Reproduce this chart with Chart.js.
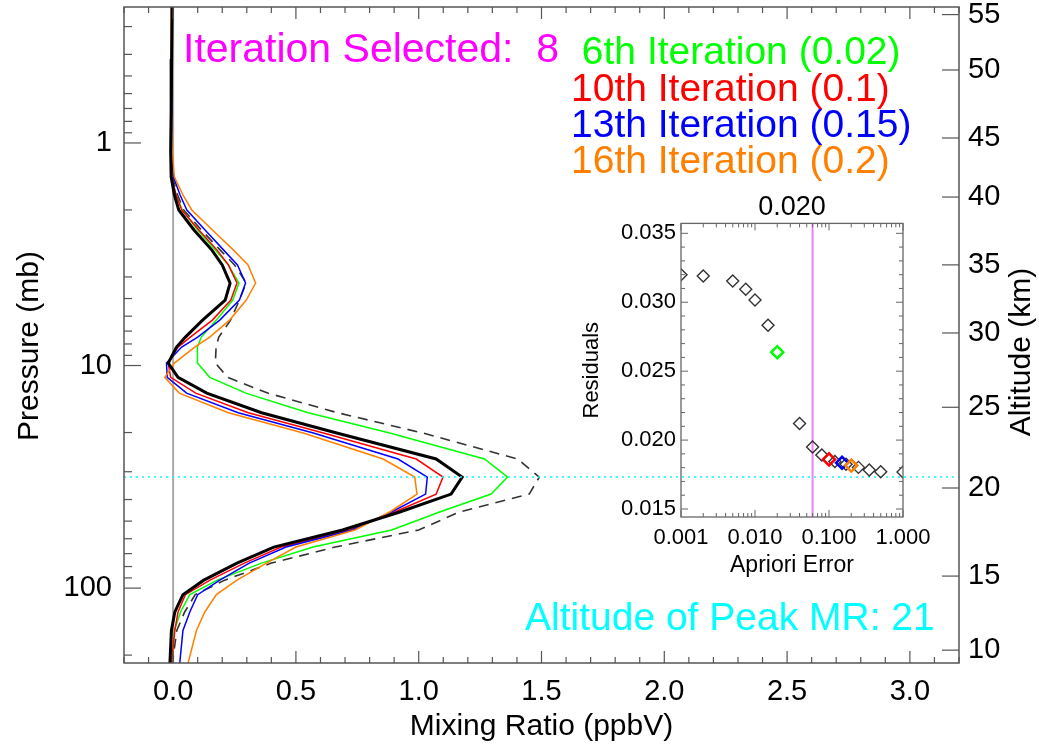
<!DOCTYPE html>
<html>
<head>
<meta charset="utf-8">
<script src="https://cdn.jsdelivr.net/npm/chart.js@4.4.1/dist/chart.umd.min.js"></script>
<style>
  html, body { margin: 0; padding: 0; background: #fff; }
  #wrap { position: relative; width: 1039px; height: 745px; }
  #main { position: absolute; left: 0; top: 0; }
  #inset { position: absolute; left: 560px; top: 190px; }
</style>
</head>
<body>
<div id="wrap">
  <canvas id="main" width="1039" height="745"></canvas>
  <canvas id="inset" width="464" height="400"></canvas>
</div>
<script>
const FONT = "'Liberation Sans', Arial, Helvetica, sans-serif";

// profiles: mixing ratio (ppbV) at each pressure level (mb)
const pressure = [0.245, 0.42, 0.71, 1.08, 1.42, 1.71, 2.0, 2.46, 3.03, 3.53, 4.26, 5.08, 6.25, 7.45, 8.26, 9.75,
  11.3, 13.3, 16.3, 20.1, 26.3, 31.7, 37.8, 45.5, 54.8, 65.4, 77.2, 92.1, 107, 128, 155, 217];
const selected8 = [-0.004, -0.006, -0.008, -0.010, -0.008, 0.005, 0.023, 0.085, 0.158, 0.200, 0.232, 0.212, 0.120, 0.050, 0.014, -0.020,
  0.020, 0.137, 0.360, 0.666, 1.071, 1.177, 1.132, 0.923, 0.690, 0.410, 0.260, 0.125, 0.040, 0.007, -0.007, -0.013];
const apriori = [-0.003, -0.005, -0.006, -0.007, -0.003, 0.018, 0.043, 0.115, 0.192, 0.250, 0.298, 0.270, 0.234, 0.186, 0.175, 0.172,
  0.222, 0.385, 0.670, 1.017, 1.403, 1.491, 1.450, 1.166, 1.000, 0.660, 0.400, 0.210, 0.090, 0.047, 0.015, -0.003];
const iter6 = [-0.005, -0.006, -0.007, -0.008, -0.005, 0.012, 0.037, 0.100, 0.172, 0.225, 0.268, 0.243, 0.176, 0.115, 0.099, 0.099,
  0.149, 0.296, 0.550, 0.882, 1.268, 1.362, 1.295, 1.085, 0.890, 0.570, 0.360, 0.180, 0.068, 0.030, 0.005, -0.005];
const iter10 = [-0.005, -0.006, -0.007, -0.008, -0.005, 0.012, 0.035, 0.105, 0.179, 0.225, 0.260, 0.235, 0.160, 0.070, 0.020, -0.020,
  -0.010, 0.092, 0.306, 0.612, 0.990, 1.099, 1.071, 0.902, 0.720, 0.440, 0.290, 0.150, 0.050, 0.020, 0.007, -0.007];
const iter13 = [-0.004, -0.005, -0.006, -0.006, 0.001, 0.028, 0.056, 0.130, 0.206, 0.262, 0.295, 0.270, 0.190, 0.100, 0.035, -0.027,
  -0.024, 0.055, 0.265, 0.571, 0.916, 1.035, 1.028, 0.889, 0.730, 0.460, 0.310, 0.190, 0.100, 0.068, 0.040, 0.027];
const iter16 = [-0.008, -0.008, -0.006, -0.004, 0.005, 0.040, 0.076, 0.160, 0.246, 0.305, 0.336, 0.298, 0.230, 0.149, 0.088, 0.005,
  -0.034, 0.025, 0.225, 0.530, 0.855, 0.984, 0.993, 0.882, 0.740, 0.500, 0.380, 0.260, 0.176, 0.129, 0.095, 0.061];
const peakPressure = 31.7;

const xTicks = [0, 0.5, 1, 1.5, 2, 2.5, 3];
const pressureTicks = [1, 10, 100];
const altitudeTicks = [10, 15, 20, 25, 30, 35, 40, 45, 50, 55];
const altitudePressure = [190, 88.3, 35.5, 15.4, 7.14, 3.53, 1.75, 0.95, 0.47, 0.265];

// inset: residuals vs apriori error
const aprioriError = [0.001, 0.002, 0.005, 0.0075, 0.01, 0.015, 0.02, 0.04, 0.06, 0.08, 0.1, 0.12, 0.15, 0.17, 0.2, 0.25, 0.35, 0.5, 1.0];
const residuals = [0.0320, 0.0319, 0.03154, 0.03094, 0.03017, 0.02833, 0.02638, 0.02121, 0.01949, 0.01891, 0.0186, 0.01845, 0.01835, 0.01825, 0.01815, 0.01802, 0.01783, 0.0177, 0.01768];
const highlightError = [0.02, 0.1, 0.15, 0.2];
const highlightResidual = [0.02638, 0.0186, 0.01835, 0.01815];
const highlightColor = ['#00ff00', '#ff0000', '#0000ff', '#ff8000'];
const selectedError = 0.06;
const residualTicks = [0.015, 0.020, 0.025, 0.030, 0.035];
const errorTicks = [0.001, 0.01, 0.1, 1];

const X_MIN = -0.2, X_MAX = 3.2, P_MIN = 0.245, P_MAX = 217;
const R_MIN = 0.01442, R_MAX = 0.03572;

function profile(label, vals, color, width, dash) {
  return {
    label, data: vals.map((v, i) => ({ x: v, y: pressure[i] })),
    borderColor: color, borderWidth: width, borderDash: dash || [],
    pointRadius: 0, tension: 0, fill: false
  };
}

function line(ctx, x1, y1, x2, y2) {
  ctx.beginPath(); ctx.moveTo(x1, y1); ctx.lineTo(x2, y2); ctx.stroke();
}

function zeroPad(s) { s.paddingTop = 0; s.paddingBottom = 0; s.paddingLeft = 0; s.paddingRight = 0; }

// IDL style inward ticks, frame and text labels
const mainDecor = {
  id: 'mainDecor',
  afterDraw(chart) {
    const { ctx, chartArea: a } = chart;
    const sx = chart.scales.x, sy = chart.scales.y, sy2 = chart.scales.y2;
    ctx.save();
    ctx.strokeStyle = '#555'; ctx.lineWidth = 1.5;
    ctx.strokeRect(a.left, a.top, a.right - a.left, a.bottom - a.top);
    ctx.lineWidth = 1.2;
    for (let k = -2; k <= 32; k++) {
      const px = sx.getPixelForValue(k / 10);
      const len = k % 5 === 0 ? 12 : 6;
      line(ctx, px, a.bottom, px, a.bottom - len);
      line(ctx, px, a.top, px, a.top + len);
    }
    for (let e = -1; e <= 2; e++) {
      for (let m = 1; m <= 9; m++) {
        const v = m * Math.pow(10, e);
        if (v < P_MIN || v > P_MAX) continue;
        const py = sy.getPixelForValue(v);
        line(ctx, a.left, py, a.left + (m === 1 ? 17 : 8), py);
      }
    }
    altitudePressure.forEach(p => {
      const py = sy2.getPixelForValue(p);
      line(ctx, a.right, py, a.right - 17, py);
    });

    ctx.textBaseline = 'middle';
    ctx.textAlign = 'left';
    ctx.fillStyle = '#ff00ff';
    ctx.font = '41px ' + FONT;
    ctx.fillText('Iteration Selected:  8', 183, 51);
    ctx.font = '39px ' + FONT;
    const legend = [' 6th Iteration (0.02)', '10th Iteration (0.1)', '13th Iteration (0.15)', '16th Iteration (0.2)'];
    const legendY = [53, 90, 126, 162];
    legend.forEach((t, i) => {
      ctx.fillStyle = highlightColor[i];
      ctx.fillText(t, 571, legendY[i]);
    });
    ctx.fillStyle = '#00ffff';
    ctx.fillText('Altitude of Peak MR: 21', 525, 619);

    ctx.fillStyle = '#000';
    ctx.font = '30px ' + FONT;
    ctx.textAlign = 'center';
    ctx.translate(30, 346); ctx.rotate(-Math.PI / 2);
    ctx.fillText('Pressure (mb)', 0, 0);
    ctx.setTransform(1, 0, 0, 1, 0, 0);
    ctx.translate(1022, 352); ctx.rotate(-Math.PI / 2);
    ctx.fillText('Altitude (km)', 0, 0);
    ctx.restore();
  }
};

new Chart(document.getElementById('main'), {
  type: 'line',
  data: {
    datasets: [
      { label: 'Peak', data: [{ x: X_MIN, y: peakPressure }, { x: X_MAX, y: peakPressure }],
        borderColor: '#00ffff', borderWidth: 1.5, borderDash: [2, 4], pointRadius: 0 },
      profile('Iteration 8', selected8, '#000000', 3),
      profile('16th Iteration', iter16, '#ff8000', 1.5),
      profile('13th Iteration', iter13, '#0000ff', 1.5),
      profile('10th Iteration', iter10, '#ff0000', 1.5),
      profile('6th Iteration', iter6, '#00ff00', 1.5),
      profile('Apriori', apriori, '#333333', 1.6, [10, 7]),
      { label: 'Zero', data: [{ x: 0, y: P_MIN }, { x: 0, y: P_MAX }],
        borderColor: '#aaaaaa', borderWidth: 2, pointRadius: 0 }
    ]
  },
  options: {
    responsive: false,
    animation: false,
    parsing: false,
    layout: { padding: { top: 7, left: 0, right: 0, bottom: 0 } },
    plugins: { legend: { display: false }, tooltip: { enabled: false } },
    scales: {
      x: {
        type: 'linear', min: X_MIN, max: X_MAX, position: 'bottom',
        grid: { display: false, drawTicks: false }, border: { display: false },
        ticks: { padding: 12, color: '#000', font: { family: FONT, size: 29 }, autoSkip: false, maxRotation: 0,
          callback: v => v.toFixed(1) },
        afterBuildTicks: s => { s.ticks = xTicks.map(v => ({ value: v })); },
        afterFit: s => { s.height = 82; zeroPad(s); },
        title: { display: true, text: 'Mixing Ratio (ppbV)', color: '#000', font: { family: FONT, size: 30 }, padding: 0 }
      },
      y: {
        type: 'logarithmic', min: P_MIN, max: P_MAX, reverse: true, position: 'left',
        grid: { display: false, drawTicks: false }, border: { display: false },
        ticks: { padding: 12, color: '#000', font: { family: FONT, size: 29 }, autoSkip: false,
          callback: v => String(v) },
        afterBuildTicks: s => { s.ticks = pressureTicks.map(v => ({ value: v })); },
        afterFit: s => { s.width = 124; zeroPad(s); }
      },
      y2: {
        type: 'logarithmic', min: P_MIN, max: P_MAX, reverse: true, position: 'right',
        grid: { display: false, drawTicks: false }, border: { display: false },
        ticks: { padding: 9, color: '#000', font: { family: FONT, size: 29 }, autoSkip: false,
          callback: (v, i) => String(altitudeTicks[i]) },
        afterBuildTicks: s => { s.ticks = altitudePressure.map(v => ({ value: v })); },
        afterFit: s => { s.width = 80; zeroPad(s); }
      }
    }
  },
  plugins: [mainDecor]
});

const insetDecor = {
  id: 'insetDecor',
  afterDraw(chart) {
    const { ctx, chartArea: a } = chart;
    const sx = chart.scales.x, sy = chart.scales.y;
    ctx.save();
    ctx.strokeStyle = '#666'; ctx.lineWidth = 1.3;
    ctx.strokeRect(a.left, a.top, a.right - a.left, a.bottom - a.top);
    ctx.lineWidth = 1;
    for (let k = 15; k <= 35; k++) {
      const py = sy.getPixelForValue(k / 1000);
      const len = k % 5 === 0 ? 7 : 4;
      line(ctx, a.left, py, a.left + len, py);
      line(ctx, a.right, py, a.right - len, py);
    }
    for (let e = -3; e <= 0; e++) {
      for (let m = 1; m <= 9; m++) {
        const v = m * Math.pow(10, e);
        if (v > 1.0001) continue;
        const px = sx.getPixelForValue(v);
        const len = m === 1 ? 7 : 4;
        line(ctx, px, a.bottom, px, a.bottom - len);
        line(ctx, px, a.top, px, a.top + len);
      }
    }
    ctx.restore();
  }
};

new Chart(document.getElementById('inset'), {
  type: 'scatter',
  data: {
    datasets: [
      { label: 'Highlighted', data: highlightError.map((e, i) => ({ x: e, y: highlightResidual[i] })),
        pointStyle: 'rectRot', pointRadius: 6, borderWidth: 2.5, borderColor: highlightColor,
        backgroundColor: 'rgba(0,0,0,0)', clip: 0 },
      { label: 'Residuals', data: aprioriError.map((e, i) => ({ x: e, y: residuals[i] })),
        pointStyle: 'rectRot', pointRadius: 6, borderWidth: 1.4, borderColor: '#333',
        backgroundColor: 'rgba(0,0,0,0)', clip: 0 },
      { label: 'Selected', data: [{ x: selectedError, y: R_MIN }, { x: selectedError, y: R_MAX }],
        showLine: true, borderColor: '#ee82ee', borderWidth: 2, pointRadius: 0 }
    ]
  },
  options: {
    responsive: false,
    animation: false,
    layout: { padding: 0 },
    plugins: {
      legend: { display: false }, tooltip: { enabled: false },
      title: { display: true, text: '0.020', color: '#000', font: { family: FONT, size: 27, weight: 'normal' },
        padding: { top: 1, bottom: 0 } }
    },
    scales: {
      x: {
        type: 'logarithmic', min: 0.001, max: 1, position: 'bottom',
        grid: { display: false, drawTicks: false }, border: { display: false },
        ticks: { padding: 8, color: '#000', font: { family: FONT, size: 22 }, autoSkip: false, maxRotation: 0,
          callback: v => Number(v).toFixed(3) },
        afterBuildTicks: s => { s.ticks = errorTicks.map(v => ({ value: v })); },
        afterFit: s => { s.height = 73; zeroPad(s); },
        title: { display: true, text: 'Apriori Error', color: '#000', font: { family: FONT, size: 23 },
          padding: { top: 0, bottom: 11 } }
      },
      y: {
        type: 'linear', min: R_MIN, max: R_MAX, position: 'left',
        grid: { display: false, drawTicks: false }, border: { display: false },
        ticks: { padding: 5, color: '#000', font: { family: FONT, size: 22 }, autoSkip: false,
          callback: v => Number(v).toFixed(3) },
        afterBuildTicks: s => { s.ticks = residualTicks.map(v => ({ value: v })); },
        afterFit: s => { s.width = 121; zeroPad(s); },
        title: { display: true, text: 'Residuals', color: '#000', font: { family: FONT, size: 22 },
          padding: { top: 19, bottom: 0 } }
      },
      y2: {
        type: 'linear', min: R_MIN, max: R_MAX, position: 'right',
        grid: { display: false, drawTicks: false }, border: { display: false },
        ticks: { display: false },
        afterFit: s => { s.width = 121; zeroPad(s); }
      }
    }
  },
  plugins: [insetDecor]
});
</script>
</body>
</html>
